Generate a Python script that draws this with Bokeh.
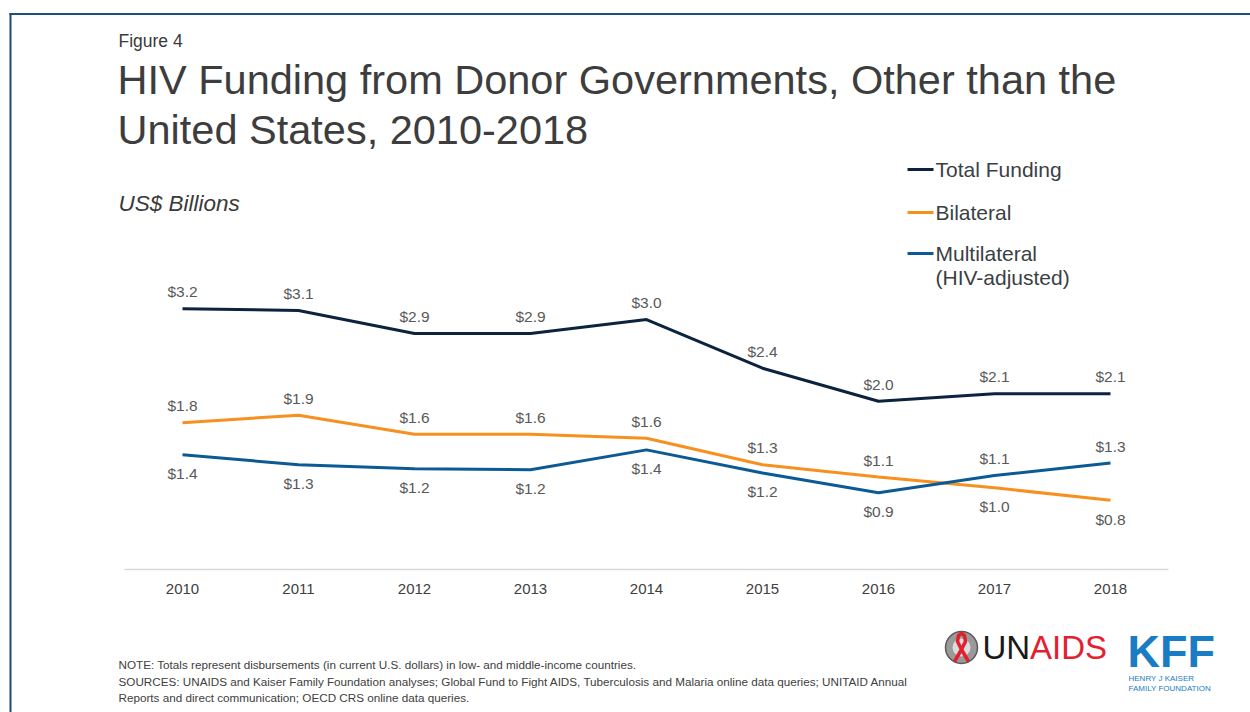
from bokeh.plotting import figure
from bokeh.models import (Range1d, FixedTicker, ColumnDataSource, LabelSet, Label,
                          BoxAnnotation, PolyAnnotation)
from bokeh.core.properties import value
from bokeh.embed import file_html
from bokeh.resources import INLINE

# ---------------- data ----------------
years = [2010, 2011, 2012, 2013, 2014, 2015, 2016, 2017, 2018]
total = [3.16, 3.14, 2.86, 2.86, 3.03, 2.44, 2.04, 2.13, 2.13]
bilateral = [1.78, 1.87, 1.64, 1.64, 1.59, 1.27, 1.12, 0.99, 0.84]
multilateral = [1.39, 1.27, 1.22, 1.21, 1.45, 1.17, 0.93, 1.14, 1.29]
total_labels = ["$3.2", "$3.1", "$2.9", "$2.9", "$3.0", "$2.4", "$2.0", "$2.1", "$2.1"]
bilateral_labels = ["$1.8", "$1.9", "$1.6", "$1.6", "$1.6", "$1.3", "$1.1", "$1.0", "$0.8"]
multilateral_labels = ["$1.4", "$1.3", "$1.2", "$1.2", "$1.4", "$1.2", "$0.9", "$1.1", "$1.3"]
series_names = ["Total Funding", "Bilateral", "Multilateral", "(HIV-adjusted)"]

# label placement relative to point (style)
total_pos = ["above"] * 9
bilateral_pos = ["above"] * 7 + ["below"] * 2
multilateral_pos = ["below"] * 7 + ["above"] * 2

C_TOTAL = "#0c2340"
C_BIL = "#f7901e"
C_MULTI = "#0b5a96"
TXT = "#404040"
FONT = "Liberation Sans"

W, H = 1250, 712
# page layout (pixels): year 2010 at x=182, 116 px per year; value 0 at y=569, 82.5 px per unit
X0, XS, Y0, YS = 182.0, 116.0, 569.0, 82.5

p = figure(width=W, height=H,
           x_range=Range1d(2010 - X0 / XS, 2010 + (W - X0) / XS),
           y_range=Range1d(-(H - Y0) / YS, Y0 / YS),
           output_backend="svg", toolbar_location=None,
           min_border_left=0, min_border_right=0,
           min_border_top=0, min_border_bottom=0)
p.outline_line_color = None
p.background_fill_color = "white"
p.border_fill_color = "white"
p.xgrid.visible = False
p.ygrid.visible = False
p.yaxis.visible = False

ax = p.xaxis[0]
ax.fixed_location = 0
ax.bounds = (2009.5, 2018.5)
ax.ticker = FixedTicker(ticks=years)
ax.axis_line_color = "#d9d9d9"
ax.axis_line_width = 1.5
ax.major_tick_line_color = None
ax.minor_tick_line_color = None
ax.major_label_text_font = FONT
ax.major_label_text_font_size = "15px"
ax.major_label_text_color = TXT
ax.major_label_standoff = 8

# pixel helper ranges for page decoration
p.extra_x_ranges = {"px": Range1d(0, W)}
p.extra_y_ranges = {"px": Range1d(H, 0)}

for vals, col, labs, pos in [(total, C_TOTAL, total_labels, total_pos),
                             (bilateral, C_BIL, bilateral_labels, bilateral_pos),
                             (multilateral, C_MULTI, multilateral_labels, multilateral_pos)]:
    src = ColumnDataSource(dict(x=years, y=vals, t=labs,
                                off=[17 if q == "above" else -19 for q in pos]))
    p.line("x", "y", source=src, line_color=col, line_width=3)
    p.add_layout(LabelSet(x="x", y="y", text="t", source=src, y_offset="off",
                          text_align="center", text_baseline="middle",
                          text_font=value(FONT), text_font_size=value("15.5px"),
                          text_color=value("#595959")))


def add_text(x, y, text, size, color=TXT, font=FONT, style="normal",
             align="left", baseline="middle"):
    p.add_layout(Label(x=x, y=y, x_range_name="px", y_range_name="px", text=text,
                       text_font_size=size, text_color=color, text_font=font,
                       text_font_style=style, text_align=align, text_baseline=baseline))


def add_box(l, r, t, b, color):
    p.add_layout(BoxAnnotation(left=l, right=r, top=t, bottom=b,
                               x_range_name="px", y_range_name="px",
                               fill_color=color, fill_alpha=1, line_color=None))


# frame lines and triangle
add_box(9, 1250, 12.5, 14.5, "#1d4f7c")
add_box(9, 11, 12.5, 712, "#1b4a72")
p.add_layout(PolyAnnotation(xs=[11, 102, 11], ys=[14.5, 14.5, 177],
                            x_range_name="px", y_range_name="px",
                            fill_color="#0b74bd", fill_alpha=1, line_color=None))

# titles
add_text(118, 40, "Figure 4", "17.5px", color="#3a3a3a")
add_text(117, 79, "HIV Funding from Donor Governments, Other than the", "41.5px", color="#3d3d3d")
add_text(117, 129, "United States, 2010-2018", "41.5px", color="#3d3d3d")
add_text(118, 203, "US$ Billions", "22.5px", color="#3a3a3a", style="italic")

# legend
for name, yc, col in [(series_names[0], 169, C_TOTAL), (series_names[1], 212, C_BIL),
                      (series_names[2], 253, C_MULTI)]:
    add_box(907, 933, yc - 1.5, yc + 1.5, col)
    add_text(935, yc, name, "21px", color="#3a3f44")
add_text(935, 277, series_names[3], "21px", color="#3a3f44")

# notes
add_text(118, 664, "NOTE: Totals represent disbursements (in current U.S. dollars) in low- and middle-income countries.",
         "11.7px", color="#404040")
add_text(118, 681, "SOURCES: UNAIDS and Kaiser Family Foundation analyses; Global Fund to Fight AIDS, Tuberculosis and Malaria online data queries; UNITAID Annual",
         "11.7px", color="#404040")
add_text(118, 697, "Reports and direct communication; OECD CRS online data queries.",
         "11.7px", color="#404040")

# UNAIDS logo (emblem approximation)
p.scatter(x=[961], y=[647], size=32, marker="circle", fill_color="#9a9a9a",
          line_color="#5a5a5a", line_width=1.5, x_range_name="px", y_range_name="px")
p.scatter(x=[961], y=[647], size=18, marker="circle", fill_color="#dcdcdc",
          line_color=None, x_range_name="px", y_range_name="px")
p.line(x=[954, 961, 965, 964, 961, 958, 957, 961, 968],
       y=[661, 649, 641, 635, 633, 635, 641, 649, 661],
       line_color="#e31e2d", line_width=3.5, x_range_name="px", y_range_name="px")
add_text(982, 647, "UN", "33px", color="#1a1a1a")
add_text(1029.5, 647, "AIDS", "33px", color="#e4202f")

# KFF logo
add_text(1127, 651, "KFF", "45px", color="#1a7dc4", style="bold")
add_text(1128, 678, "HENRY J KAISER", "8px", color="#1a7dc4")
add_text(1128, 688, "FAMILY FOUNDATION", "8px", color="#1a7dc4")

open("out.html", "w").write(file_html(p, INLINE))
